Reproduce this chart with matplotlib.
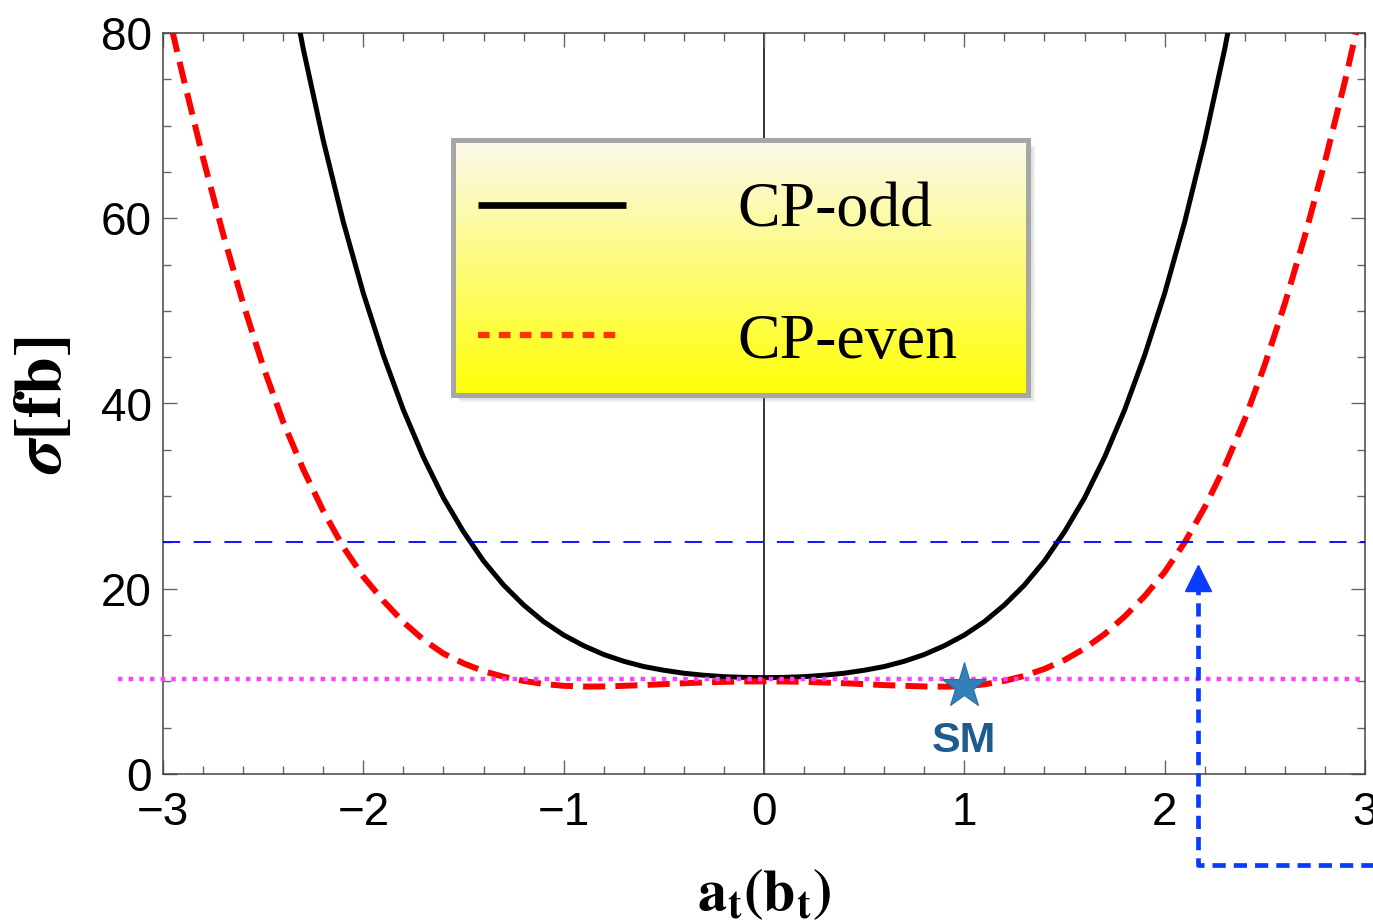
import numpy as np
import matplotlib
matplotlib.use("Agg")
import matplotlib.pyplot as plt
from matplotlib.patches import Rectangle

plt.rcParams['font.family'] = ['Liberation Sans', 'DejaVu Sans']
plt.rcParams['mathtext.fontset'] = 'stix'

# ---------------- data ----------------
x_even = np.round(np.arange(-3.0, 3.0001, 0.1), 1)
sigma_cp_even = [84.5, 75.3, 66.5, 58.3, 50.8, 44.0, 38.0, 32.9, 28.4, 24.5,
                 21.3, 18.7, 16.4, 14.5, 13.0, 11.95, 11.1, 10.5, 10.05, 9.72,
                 9.52, 9.44, 9.45, 9.52, 9.6, 9.7, 9.8, 9.88, 9.95, 9.99,
                 10.0,
                 9.99, 9.95, 9.88, 9.8, 9.7, 9.6, 9.52, 9.45, 9.43, 9.48,
                 9.68, 10.05, 10.6, 11.35, 12.3, 13.55, 15.1, 17.0, 19.2, 21.8,
                 25.0, 28.8, 33.2, 38.3, 44.2, 50.8, 58.1, 66.1, 74.8, 84.3]

x_odd = np.round(np.arange(-2.4, 2.4001, 0.1), 1)
sigma_cp_odd = [89.5, 78.3, 68.4, 59.6, 51.9, 45.2, 39.3, 34.2, 29.8, 26.15,
                23.0, 20.4, 18.25, 16.45, 15.0, 13.85, 12.9, 12.17, 11.6, 11.2,
                10.88, 10.66, 10.51, 10.43,
                10.4,
                10.43, 10.51, 10.66, 10.88, 11.2, 11.6, 12.17, 12.9, 13.85, 15.0,
                16.45, 18.25, 20.4, 23.0, 26.15, 29.8, 34.2, 39.3, 45.2, 51.9,
                59.6, 68.4, 78.3, 89.5]

sm_x, sm_y = 1.0, 9.5
sigma_limit = 25.0          # blue dashed line
sigma_sm = 10.25            # magenta dotted line
sm_line_x = [-3.225, 3.0]
arrow_x = 2.165
arrow_bottom = -9.8
arrow_right = 3.1
arrow_head_y = 21.2

x_ticks = [-3, -2, -1, 0, 1, 2, 3]
y_ticks = [0, 20, 40, 60, 80]
legend_labels = ['CP-odd', 'CP-even']

# ---------------- figure ----------------
W, H = 1373, 921
fig = plt.figure(figsize=(W / 100, H / 100), dpi=100)
ax = fig.add_axes([163 / W, 1 - 774 / H, (1365 - 163) / W, (774 - 33) / H])

ax.axvline(0, color='black', lw=1.1, zorder=1)

ax.plot(x_odd, sigma_cp_odd, color='black', lw=3.6, solid_capstyle='butt', zorder=3)
ax.plot(x_even, sigma_cp_even, color='#ff0000', lw=4.3,
        linestyle=(0, (3.7, 1.7)), zorder=3)

ax.axhline(sigma_limit, color='#0000ff', lw=1.3, linestyle=(0, (9.5, 7.5)), zorder=4)
ax.plot(sm_line_x, [sigma_sm, sigma_sm], color='#ff40ff', lw=3.2,
        linestyle=(0, (1.0, 1.4)), clip_on=False, zorder=4)

# blue arrow
ax.plot([arrow_right, arrow_x, arrow_x], [arrow_bottom, arrow_bottom, arrow_head_y - 1.4],
        color='#0a3cff', lw=3.4, linestyle=(0, (2.8, 1.7)), clip_on=False, zorder=5)
ax.plot([arrow_x], [arrow_head_y], marker='^', ms=18.5, color='#0a3cff',
        mec='#0a3cff', clip_on=False, zorder=5)

# SM star
ax.plot([sm_x], [sm_y], marker='*', ms=34, color='#3380b8', mec='#2b6c9e',
        mew=0.8, zorder=7, clip_on=False)
ax.text(sm_x, 3.6, 'SM', ha='center', va='center', fontsize=31,
        fontweight='bold', color='#1f5b8f', zorder=7)

ax.set_xlim(-3, 3)
ax.set_ylim(0, 80)
ax.set_xticks(x_ticks)
ax.set_yticks(y_ticks)
ax.set_xticks(np.round(np.arange(-3, 3.0001, 0.2), 1), minor=True)
ax.set_yticks(np.arange(0, 80.001, 5), minor=True)
ax.tick_params(which='both', direction='in', top=True, right=True,
               color='#666666', width=1.0)
ax.tick_params(which='major', length=10, labelsize=33)
ax.tick_params(which='minor', length=6)
ax.tick_params(axis='x', pad=12)
ax.tick_params(axis='y', pad=8)
for sp in ax.spines.values():
    sp.set_color('#444444')
    sp.set_linewidth(1.1)

ax.set_xlabel(r'$\mathbf{a_t(b_t)}$', fontsize=42)
ax.xaxis.set_label_coords(0.5, (774 - 894) / 741)
ax.xaxis.label.set_va('center')
ax.set_ylabel(r'$\boldsymbol{\sigma}\mathbf{[fb]}$', fontsize=49)
ax.yaxis.set_label_coords((43 - 163) / 1202, (774 - 405) / 741)
ax.yaxis.label.set_va('center')

# ---------------- legend box ----------------
lx0, lx1, ly0, ly1 = 453, 1028, 140, 395
for i, off in enumerate([7, 5, 3]):
    fig.patches.append(Rectangle(((lx0 + off) / W, 1 - (ly1 + off) / H),
                                 (lx1 - lx0) / W, (ly1 - ly0) / H,
                                 transform=fig.transFigure, facecolor='#808080',
                                 edgecolor='none', alpha=0.12, zorder=9))
lax = fig.add_axes([lx0 / W, 1 - ly1 / H, (lx1 - lx0) / W, (ly1 - ly0) / H], zorder=10)
t = np.linspace(0, 1, 256)[:, None, None]
top_c = np.array([0.985, 0.975, 0.93])[None, None, :]
bot_c = np.array([1.0, 1.0, 0.02])[None, None, :]
img = top_c * (1 - t) + bot_c * t
lax.imshow(np.repeat(img, 2, axis=1), aspect='auto', extent=[0, 1, 0, 1], origin='upper')
lax.set_xlim(0, 1)
lax.set_ylim(0, 1)
lax.set_xticks([])
lax.set_yticks([])
for sp in lax.spines.values():
    sp.set_color('#a5a7a5')
    sp.set_linewidth(3.6)
lax.plot([0.044, 0.300], [0.745, 0.745], color='black', lw=4.8, solid_capstyle='butt')
lax.plot([0.044, 0.290], [0.235, 0.235], color='#ff3300', lw=4.5,
         linestyle=(0, (1.85, 1.5)))
lax.text(0.495, 0.659, legend_labels[0], fontfamily='Liberation Serif',
         fontsize=46, va='baseline', ha='left')
lax.text(0.495, 0.145, legend_labels[1], fontfamily='Liberation Serif',
         fontsize=46, va='baseline', ha='left')

fig.savefig('out.png', dpi=100)
